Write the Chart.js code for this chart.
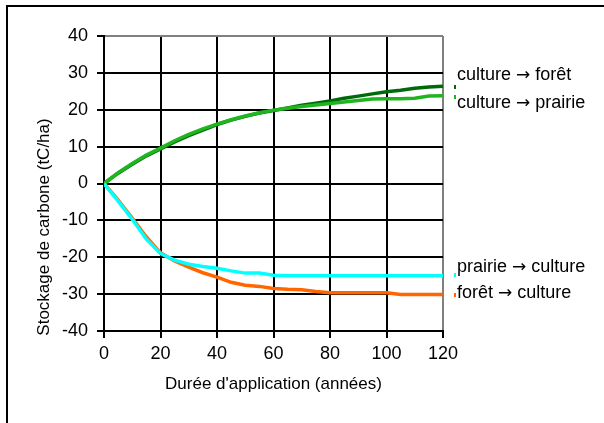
<!DOCTYPE html>
<html>
<head>
<meta charset="utf-8">
<script src="https://cdn.jsdelivr.net/npm/chart.js@4"></script>
<style>
  body { margin: 0; background: #fff; }
  canvas { display: block; }
</style>
</head>
<body>
<canvas id="chart" width="604" height="423"></canvas>
<script>
// years of application (x axis)
var years = [0, 5, 10, 15, 20, 25, 30, 35, 40, 45, 50, 55, 60, 65, 70, 75, 80, 85, 90, 95, 100, 105, 110, 115, 120];

// carbon storage, tC/ha
var cultureForet = [0, 2.8, 5.2, 7.5, 9.4, 11.3, 13.0, 14.5, 16.0, 17.2, 18.2, 19.1, 19.8, 20.5, 21.2, 21.8, 22.4, 23.1, 23.7, 24.3, 24.9, 25.3, 25.8, 26.2, 26.4];
var culturePrairie = [0, 2.9, 5.4, 7.7, 9.6, 11.6, 13.3, 14.8, 16.1, 17.3, 18.3, 19.2, 19.9, 20.4, 20.9, 21.3, 21.7, 22.1, 22.5, 22.9, 23.0, 23.0, 23.1, 23.7, 23.8];
var prairieCulture = [0, -4.8, -9.7, -15.1, -19.0, -20.8, -21.9, -22.5, -23.0, -23.7, -24.3, -24.3, -24.9, -25.0, -25.0, -25.0, -25.0, -25.0, -25.0, -25.0, -25.0, -25.0, -25.0, -25.0, -25.0];
var foretCulture = [0, -4.5, -9.4, -14.5, -18.8, -21.0, -22.7, -24.2, -25.4, -26.8, -27.6, -27.9, -28.5, -28.7, -28.8, -29.3, -29.6, -29.6, -29.6, -29.6, -29.6, -30.1, -30.1, -30.1, -30.1];

// label = [from, to]
var seriesNames = [["culture", "for\u00eat"], ["culture", "prairie"], ["prairie", "culture"], ["for\u00eat", "culture"]];
var seriesColors = ["#006a0a", "#1fb51f", "#00ffff", "#ff6600"];

var xTicks = [0, 20, 40, 60, 80, 100, 120];
var yTicks = [-40, -30, -20, -10, 0, 10, 20, 30, 40];

var FONT = "'Liberation Sans', Arial, sans-serif";

var toPoints = (vals) => {
  var pts = [];
  for(var i = 0;i < years.length;i++) {
    pts.push({x: years[i], y: vals[i]});
  }
  return pts;
}

var mkSet = (idx, vals) => {
  return {
    label: seriesNames[idx].join(" \u2192 "),
    data: toPoints(vals),
    borderColor: seriesColors[idx],
    backgroundColor: seriesColors[idx],
    borderWidth: 3.5,
    pointRadius: 0,
    tension: 0,
    fill: false
  };
}

// frame, y title and the labels next to the line ends
var decor = {
  id: "decor",
  beforeDraw: (chart) => {
    var ctx = chart.ctx;
    ctx.save();
    ctx.fillStyle = "#fff";
    ctx.fillRect(0, 0, chart.width, chart.height);
    ctx.strokeStyle = "#000";
    ctx.lineWidth = 2;
    ctx.beginPath();
    ctx.moveTo(7, 430);
    ctx.lineTo(7, 6);
    ctx.lineTo(610, 6);
    ctx.stroke();
    ctx.restore();
  },
  afterDraw: (chart) => {
    var ctx = chart.ctx;
    var area = chart.chartArea;
    ctx.save();
    // y axis title
    ctx.translate(44, 227);
    ctx.rotate(-Math.PI / 2);
    ctx.font = "17px " + FONT;
    ctx.fillStyle = "#000";
    ctx.textAlign = "center";
    ctx.textBaseline = "middle";
    ctx.fillText("Stockage de carbone (tC/ha)", 0, 0);
    ctx.restore();

    var labelY = [80, 108, 272, 298];
    var keyY = [87, 97, 275, 295];
    ctx.save();
    ctx.fillStyle = "#000";
    ctx.textAlign = "left";
    ctx.textBaseline = "alphabetic";
    for(var i = 0;i < seriesNames.length;i++) {
      var x = area.right + 14;
      ctx.font = "18px " + FONT;
      ctx.fillText(seriesNames[i][0] + " ", x, labelY[i]);
      x += ctx.measureText(seriesNames[i][0] + " ").width;
      ctx.font = "17px 'DejaVu Sans'";
      ctx.fillText("\u2192", x, labelY[i]);
      x += ctx.measureText("\u2192").width;
      ctx.font = "18px " + FONT;
      ctx.fillText(" " + seriesNames[i][1], x, labelY[i]);
    }
    for(var i = 0;i < seriesNames.length;i++) {
      ctx.fillStyle = seriesColors[i];
      ctx.fillRect(area.right + 11, keyY[i] - 2, 2, 4);
    }
    ctx.restore();
  }
};

var gridColor = (last) => {
  return (c) => (c.tick && c.tick.value === last) ? "#808080" : "#000";
}

var chart = new Chart(document.getElementById("chart").getContext("2d"), {
  type: "line",
  data: {
    datasets: [
      mkSet(2, prairieCulture),
      mkSet(3, foretCulture),
      mkSet(1, culturePrairie),
      mkSet(0, cultureForet)
    ]
  },
  options: {
    responsive: false,
    animation: false,
    layout: {padding: {left: 0, top: 36, right: 161, bottom: 0}},
    plugins: {legend: {display: false}, tooltip: {enabled: false}},
    scales: {
      x: {
        type: "linear",
        min: 0,
        max: 120,
        afterFit: (s) => { s.height = 92; },
        afterBuildTicks: (s) => { s.ticks = xTicks.map(v => ({value: v})); },
        ticks: {color: "#000", font: {size: 18, family: FONT}, padding: 5, maxRotation: 0},
        grid: {color: gridColor(120), tickColor: "#000", lineWidth: 2, tickLength: 7},
        border: {color: "#000", width: 2},
        title: {display: true, text: "Dur\u00e9e d'application (ann\u00e9es)", color: "#000", font: {size: 17, family: FONT}, padding: {top: 0, bottom: 28}}
      },
      y: {
        min: -40,
        max: 40,
        afterFit: (s) => { s.width = 104; },
        afterBuildTicks: (s) => { s.ticks = yTicks.map(v => ({value: v})); },
        ticks: {color: "#000", font: {size: 18, family: FONT}, padding: 9},
        grid: {color: gridColor(40), tickColor: "#000", lineWidth: 2, tickLength: 7},
        border: {color: "#000", width: 2}
      }
    }
  },
  plugins: [decor]
});
</script>
</body>
</html>
